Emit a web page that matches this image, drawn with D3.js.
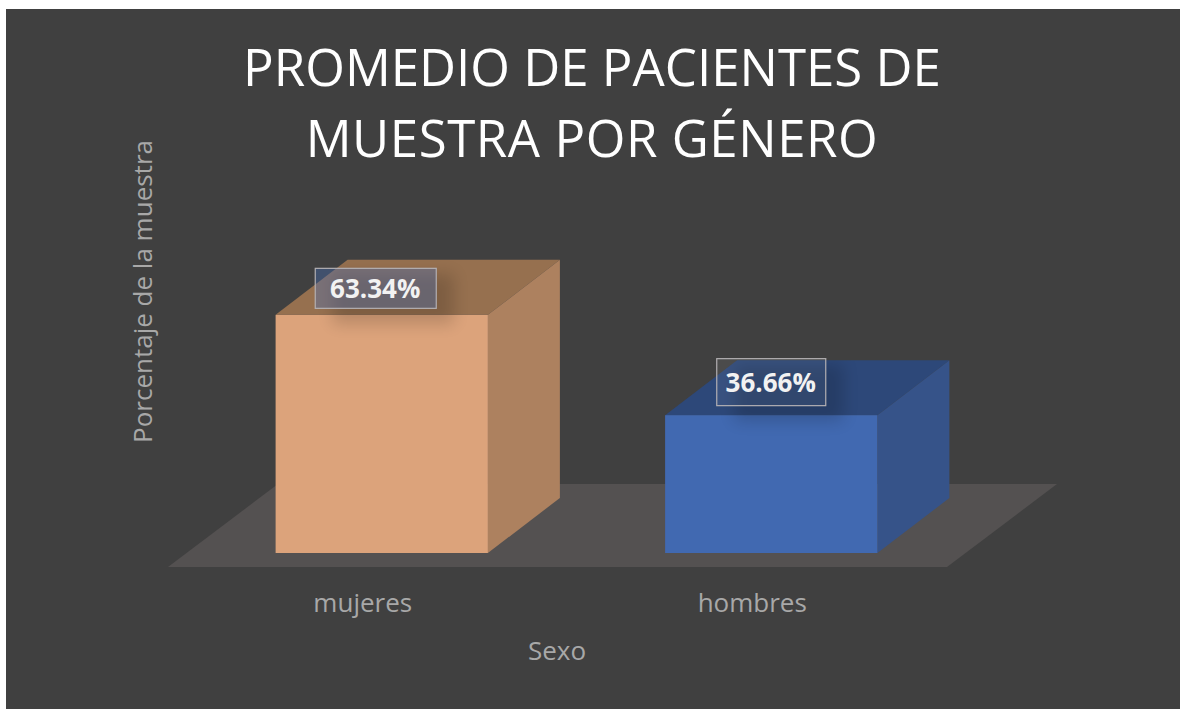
<!DOCTYPE html>
<html>
<head>
<meta charset="utf-8">
<script src="https://cdn.jsdelivr.net/npm/d3@7"></script>
<style>
  html, body { margin: 0; padding: 0; background: #fff; overflow: hidden; }
  text { font-family: "Open Sans", "Noto Sans", sans-serif; }
  .x-axis .domain, .x-axis line { display: none; }
</style>
</head>
<body>
<script>
var categories = ["mujeres", "hombres"];
var values = [63.34, 36.66];
var valueLabels = ["63.34%", "36.66%"];
var titleLines = ["PROMEDIO DE PACIENTES DE", "MUESTRA POR GÉNERO"];

var w = 1180, h = 709;
var baseY = 567;               // front edge of the floor
var floorDepth = {x: 110, y: 83};
var barDepth = {x: 72, y: 55};
var barShift = {x: 19, y: 14}; // bars sit in the middle of the floor

var svg = d3.select("body").append("svg")
    .attr("width", w)
    .attr("height", h);

var defs = svg.append("defs");
defs.append("filter")
    .attr("id", "soft")
    .attr("x", "-40%").attr("y", "-60%")
    .attr("width", "180%").attr("height", "220%")
    .append("feGaussianBlur")
    .attr("stdDeviation", 8);

// background
svg.append("rect")
    .attr("x", 6).attr("y", 9)
    .attr("width", w - 6).attr("height", h - 9)
    .attr("fill", "#404040");

// add scales
var x = d3.scaleBand()
    .domain(categories)
    .range([168, 947])
    .paddingInner(0.455)
    .paddingOuter(0.2275);

var y = d3.scaleLinear()
    .domain([0, 100])
    .range([baseY - barShift.y, baseY - barShift.y - 376]);

var front = d3.scaleOrdinal().domain(categories).range(["#dca37b", "#4169b1"]);
var side = d3.scaleOrdinal().domain(categories).range(["#ad815f", "#365389"]);
var top_ = d3.scaleOrdinal().domain(categories).range(["#96704f", "#2d4879"]);
var boxFill = d3.scaleOrdinal().domain(categories)
    .range(["rgba(68,114,196,0.34)", "rgba(255,255,255,0.06)"]);

// floor
var x0 = x.range()[0], x1 = x.range()[1];
svg.append("polygon")
    .attr("points", [
      [x0, baseY], [x1, baseY],
      [x1 + floorDepth.x, baseY - floorDepth.y],
      [x0 + floorDepth.x, baseY - floorDepth.y]
    ].join(" "))
    .attr("fill", "#545151");

// bars
var data = categories.map(function(c, i) { return {cat: c, value: values[i], label: valueLabels[i]}; });

var bar = svg.selectAll(".bar")
    .data(data)
    .enter().append("g")
    .attr("class", "bar");

function left(d) { return x(d.cat) + barShift.x; }
function right(d) { return left(d) + x.bandwidth(); }

// top face
bar.append("polygon")
    .attr("points", function(d) {
      return [
        [left(d), y(d.value)], [right(d), y(d.value)],
        [right(d) + barDepth.x, y(d.value) - barDepth.y],
        [left(d) + barDepth.x, y(d.value) - barDepth.y]
      ].join(" ");
    })
    .attr("fill", function(d) { return top_(d.cat); });

// side face
bar.append("polygon")
    .attr("points", function(d) {
      return [
        [right(d), y(0)], [right(d), y(d.value)],
        [right(d) + barDepth.x, y(d.value) - barDepth.y],
        [right(d) + barDepth.x, y(0) - barDepth.y]
      ].join(" ");
    })
    .attr("fill", function(d) { return side(d.cat); });

// front face
bar.append("rect")
    .attr("x", left)
    .attr("y", function(d) { return y(d.value); })
    .attr("width", x.bandwidth())
    .attr("height", function(d) { return y(0) - y(d.value); })
    .attr("fill", function(d) { return front(d.cat); });

// data labels were moved by hand in the original, so each has its own box
var labelBox = {
  mujeres: {dx: -67, dy: -47, w: 121, h: 40},
  hombres: {dx: -55, dy: -57, w: 109, h: 47}
};

function boxX(d) { return left(d) + x.bandwidth() / 2 + labelBox[d.cat].dx; }
function boxY(d) { return y(d.value) + labelBox[d.cat].dy; }

// shadow only falls on the bar, not on the background
defs.selectAll("clipPath")
    .data(data)
    .enter().append("clipPath")
    .attr("id", function(d) { return "clip-" + d.cat; })
    .append("polygon")
    .attr("points", function(d) {
      return [
        [left(d), y(0)], [left(d), y(d.value)],
        [left(d) + barDepth.x, y(d.value) - barDepth.y],
        [right(d) + barDepth.x, y(d.value) - barDepth.y],
        [right(d) + barDepth.x, y(0) - barDepth.y],
        [right(d), y(0)]
      ].join(" ");
    });

svg.selectAll(".label-shadow")
    .data(data)
    .enter().append("g")
    .attr("class", "label-shadow")
    .attr("clip-path", function(d) { return "url(#clip-" + d.cat + ")"; })
    .append("rect")
    .attr("x", function(d) { return boxX(d) + 18; })
    .attr("y", function(d) { return boxY(d) + 6; })
    .attr("width", function(d) { return labelBox[d.cat].w; })
    .attr("height", function(d) { return labelBox[d.cat].h + 10; })
    .attr("fill", "#000")
    .attr("opacity", 0.16)
    .attr("filter", "url(#soft)");

var label = svg.selectAll(".data-label")
    .data(data)
    .enter().append("g")
    .attr("class", "data-label")
    .attr("transform", function(d) { return "translate(" + boxX(d) + "," + boxY(d) + ")"; });

label.append("rect")
    .attr("x", 0.5)
    .attr("y", 0.5)
    .attr("width", function(d) { return labelBox[d.cat].w; })
    .attr("height", function(d) { return labelBox[d.cat].h; })
    .attr("fill", function(d) { return boxFill(d.cat); })
    .attr("stroke", "#b3b0b3")
    .attr("stroke-width", 1.2);

label.append("text")
    .attr("x", function(d) { return labelBox[d.cat].w / 2; })
    .attr("y", function(d) { return labelBox[d.cat].h / 2 + 1; })
    .attr("dy", ".35em")
    .attr("text-anchor", "middle")
    .attr("font-size", 26)
    .attr("font-weight", 700)
    .attr("fill", "#f2f2f2")
    .text(function(d) { return d.label; });

// category axis
svg.append("g")
    .attr("class", "x-axis")
    .attr("transform", "translate(0," + baseY + ")")
    .call(d3.axisBottom(x).tickSize(0).tickPadding(27))
    .selectAll("text")
    .attr("font-size", 26)
    .attr("fill", "#a8a8a8")
    .style("font-family", '"Open Sans", "Noto Sans", sans-serif');

// titles
svg.append("text")
    .attr("x", 557)
    .attr("y", 660)
    .attr("text-anchor", "middle")
    .attr("font-size", 26)
    .attr("fill", "#a8a8a8")
    .text("Sexo");

svg.append("text")
    .attr("transform", "translate(152,291.5) rotate(-90)")
    .attr("text-anchor", "middle")
    .attr("font-size", 26)
    .attr("fill", "#a8a8a8")
    .text("Porcentaje de la muestra");

svg.selectAll(".title")
    .data(titleLines)
    .enter().append("text")
    .attr("class", "title")
    .attr("x", 592)
    .attr("y", function(d, i) { return 86 + i * 71; })
    .attr("text-anchor", "middle")
    .attr("font-size", 51)
    .attr("letter-spacing", function(d, i) { return i ? 0.55 : 0; })
    .attr("fill", "#fff")
    .text(function(d) { return d; });
</script>
</body>
</html>
